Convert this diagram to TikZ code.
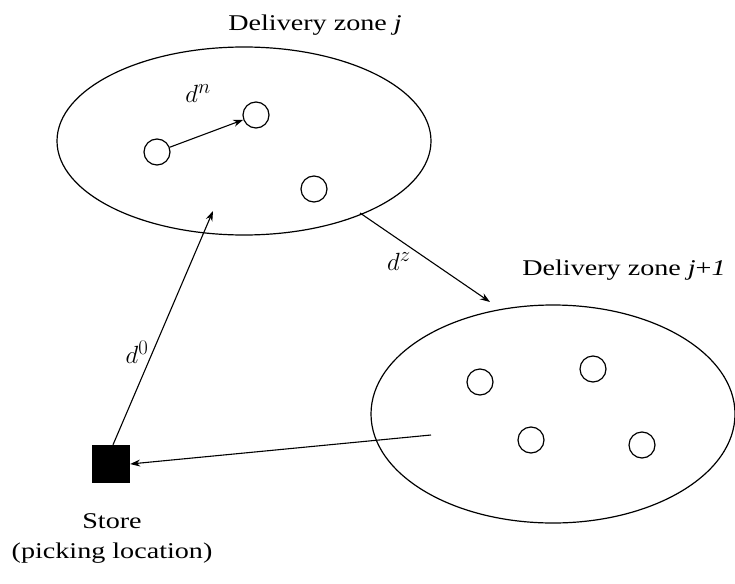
\documentclass[tikz,border=0pt]{standalone}
\usepackage{fontspec}
\setmainfont{Liberation Serif}[FakeStretch=1.25]
\usetikzlibrary{arrows.meta}
\begin{document}
\begin{tikzpicture}[x=1pt,y=-1pt,
  zone/.style={draw,line width=1.2pt},
  stop/.style={draw,circle,line width=1.2pt,minimum size=26pt,inner sep=0pt},
  link/.style={line width=1.1pt,-{Stealth[length=10pt,width=7pt]}},
  lbl/.style={font=\fontsize{22.5}{25}\selectfont,inner sep=0pt},
  dist/.style={font=\fontsize{30}{33}\selectfont,inner sep=0pt}]
\useasboundingbox (0,0) rectangle (735,583);
% delivery zones
\draw[zone] (244,141) ellipse [x radius=187, y radius=94];
\draw[zone] (553,414) ellipse [x radius=182, y radius=109];
\node[lbl] (zj) at (315,25) {Delivery zone \textit{j}};
\node[lbl] (zj1) at (624,270) {Delivery zone \textit{j}+\textit{1}};
% customer locations
\node[stop] (a1) at (157,152) {};
\node[stop] (a2) at (256,115) {};
\node[stop] (a3) at (314,189) {};
\node[stop] (b1) at (480,382) {};
\node[stop] (b2) at (593,369) {};
\node[stop] (b3) at (531,440) {};
\node[stop] (b4) at (642,445) {};
% store
\node[fill=black,minimum size=38pt,inner sep=0pt] (st) at (111,464) {};
\node[lbl] (stl) at (112,521) {Store};
\node[lbl] (stl2) at (112,553) {(picking location)};
% route
\coordinate (z1in) at (213,211);
\coordinate (z1out) at (360,213);
\coordinate (z2in) at (490,302);
\coordinate (z2out) at (431,435);
\draw[link] (a1) -- (a2);
\draw[link] (st.north) ++(2,0) -- (z1in);
\draw[link] (z1out) -- (z2in);
\draw[link] (z2out) -- (st.east);
\node[dist] (dn) at (198,94) {$d^n$};
\node[dist] (dz) at (399,262) {$d^z$};
\node[dist] (d0) at (137,352) {$d^0$};
\end{tikzpicture}
\end{document}
